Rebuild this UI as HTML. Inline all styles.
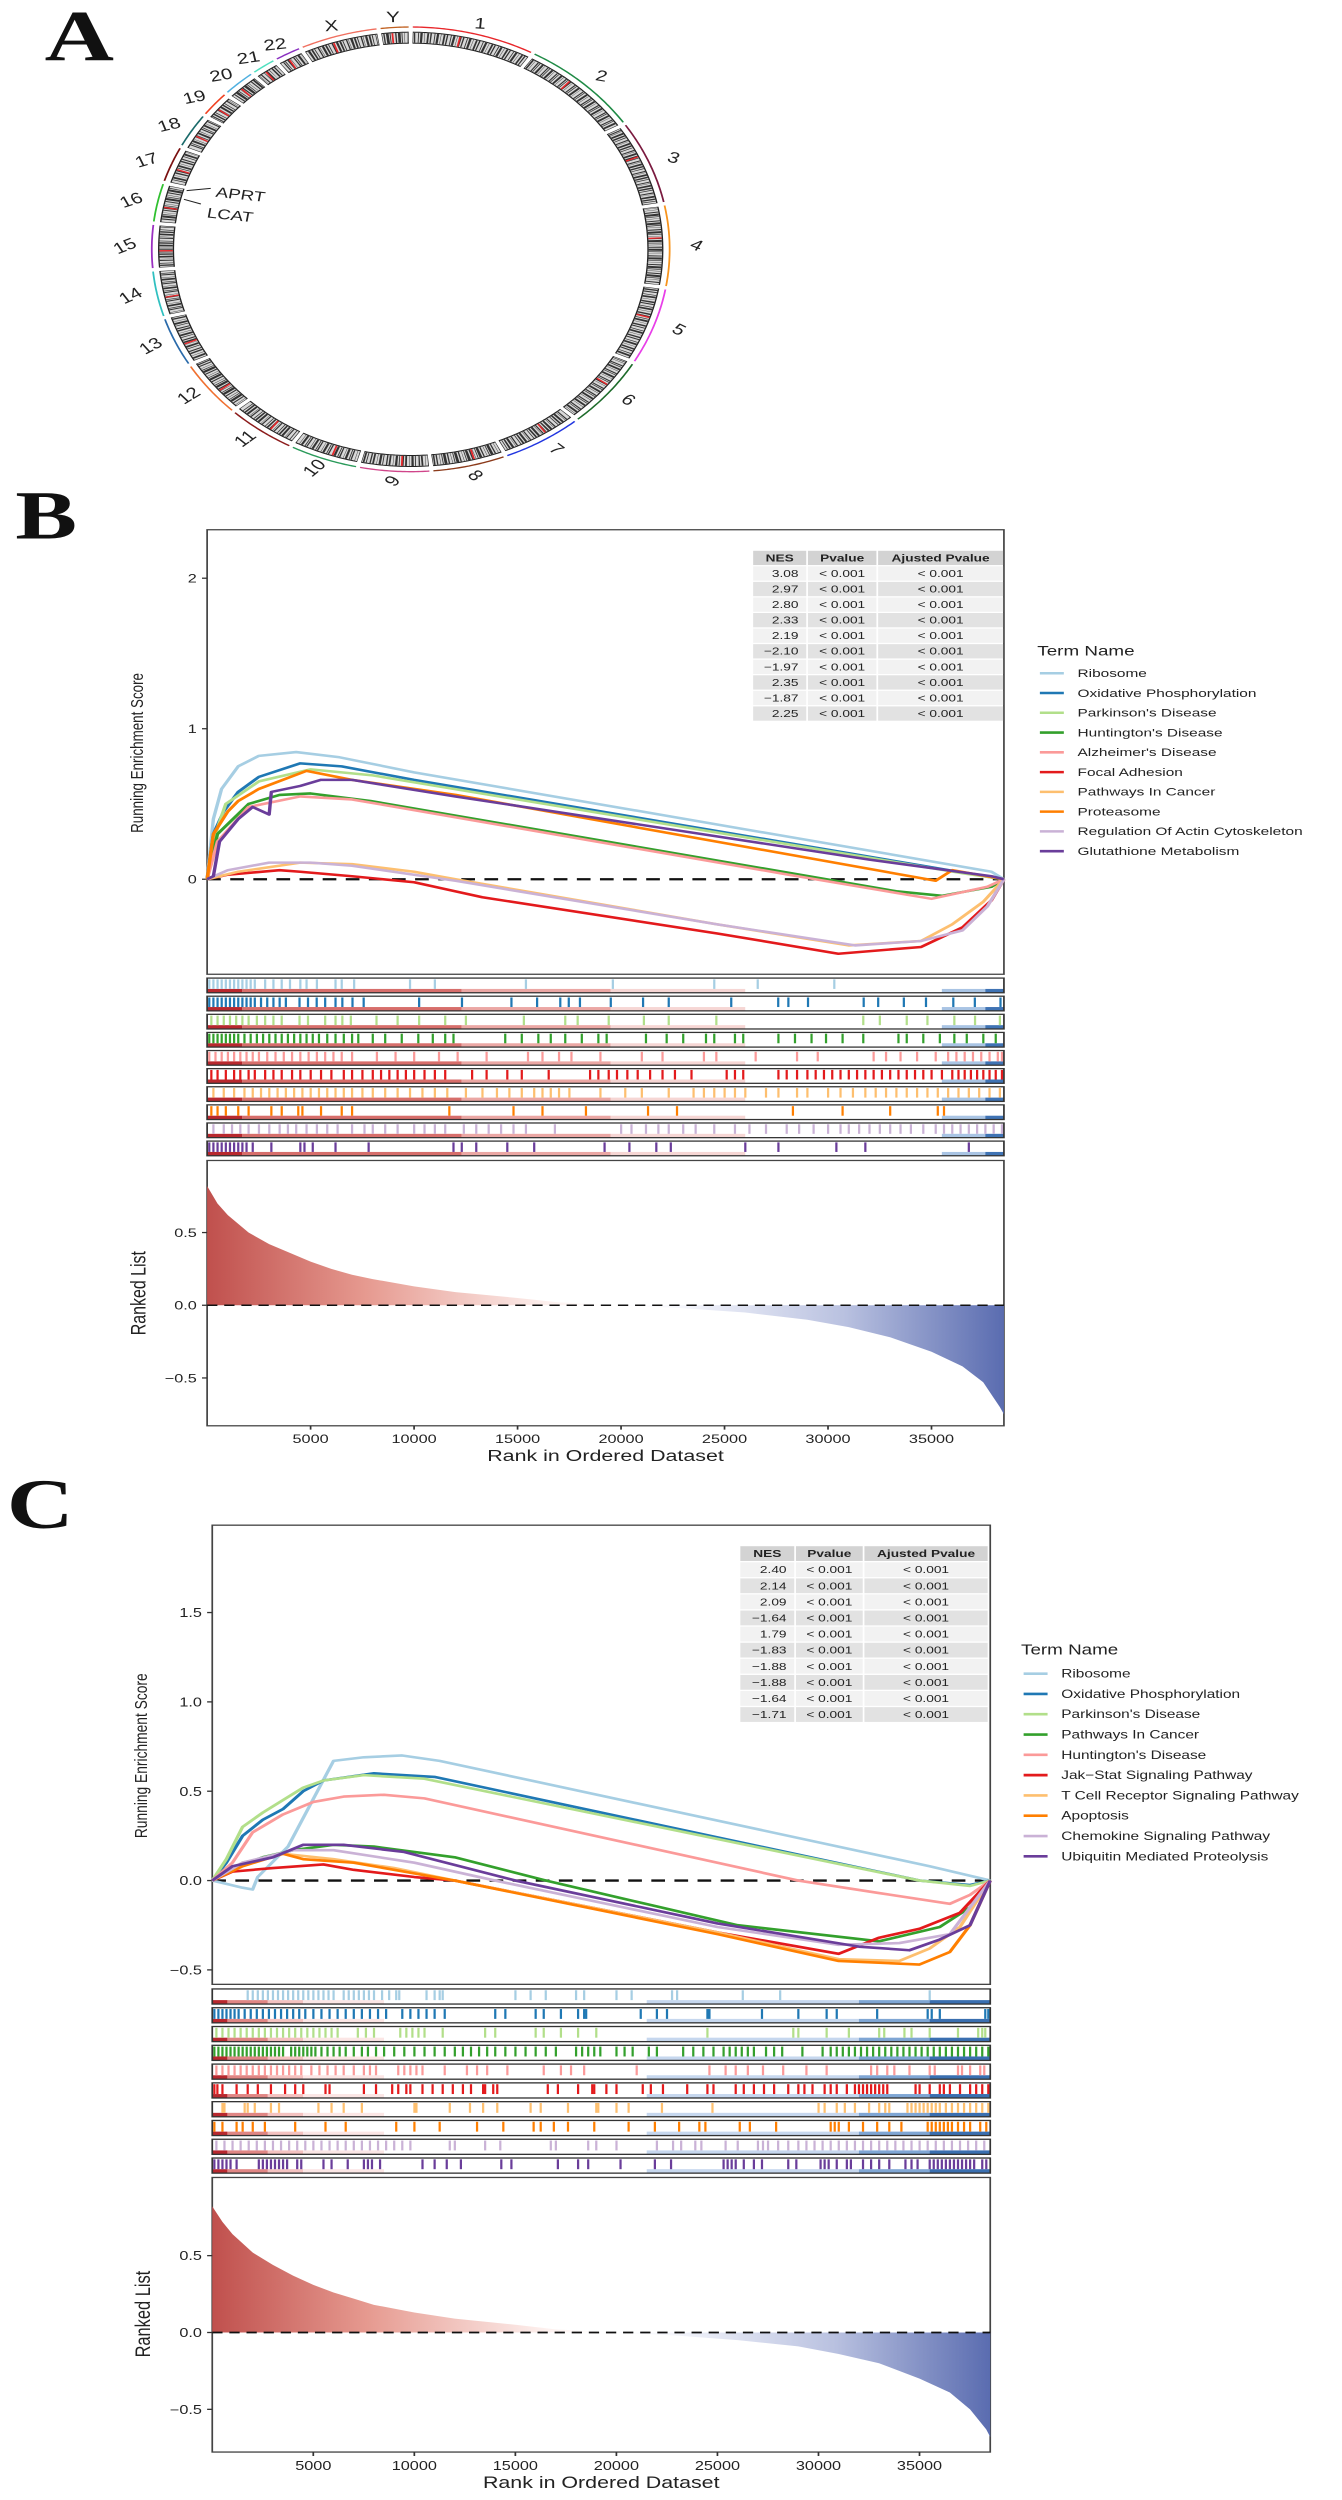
<!DOCTYPE html>
<html><head><meta charset="utf-8">
<style>
html,body{margin:0;padding:0;background:#fff;}
body{width:1342px;height:2500px;position:relative;overflow:hidden;}
svg{position:absolute;left:0;overflow:visible;}
text{font-family:"Liberation Sans",sans-serif;}
</style></head>
<body>
<svg id="svgA" style="top:0" width="700" height="500" viewBox="0 0 1568 1500" preserveAspectRatio="none"></svg>
<svg id="svgB" style="top:480px" width="1342" height="1000" viewBox="0 0 1568 1568" preserveAspectRatio="none"></svg>
<svg id="svgC" style="top:1470px" width="1342" height="1030" viewBox="0 0 1568 1568" preserveAspectRatio="none"></svg>
<script>
// ---------- Panel A data ----------
const chrNames=["1","2","3","4","5","6","7","8","9","10","11","12","13","14","15","16","17","18","19","20","21","22","X","Y"];
const chrSizes=[249,243,198,191,181,171,159,146,141,136,135,133,115,107,102,90,83,80,59,64,47,51,156,57];
const chrColors=["#e8262a","#1e8a45","#7a1a3f","#f7941d","#e83ee8","#1d6b2a","#2236e0","#8b3a1a","#d0458a","#2a9a5a","#8b1a1a","#f07030","#2a6aaa","#30c0c0","#9a30c0","#30c030","#7a1010","#1a6a6a","#f04020","#50b0e0","#50e0c0","#8a30c0","#f07060","#c06020"];

// ---------- Panel B data ----------
const bTerms=["Ribosome","Oxidative Phosphorylation","Parkinson's Disease","Huntington's Disease","Alzheimer's Disease","Focal Adhesion","Pathways In Cancer","Proteasome","Regulation Of Actin Cytoskeleton","Glutathione Metabolism"];
const bNES=["3.08","2.97","2.80","2.33","2.19","\u22122.10","\u22121.97","2.35","\u22121.87","2.25"];
const bPval=["< 0.001","< 0.001","< 0.001","< 0.001","< 0.001","< 0.001","< 0.001","< 0.001","< 0.001","< 0.001"];
const bAdj=["< 0.001","< 0.001","< 0.001","< 0.001","< 0.001","< 0.001","< 0.001","< 0.001","< 0.001","< 0.001"];
const bRibosome=[[0,0],[300,.40],[700,.60],[1500,.75],[2500,.82],[4300,.845],[6400,.81],[10000,.71],[37900,.05],[38500,0]];
const bOxPhos=[[0,0],[300,.3],[800,.45],[1500,.58],[2500,.68],[4500,.77],[6500,.75],[10000,.66],[38000,.01],[38500,0]];
const bParkinson=[[0,0],[400,.3],[900,.5],[2500,.65],[5000,.73],[8000,.69],[36500,.04],[38500,0]];
const bHuntington=[[0,0],[500,.3],[2000,.5],[3500,.56],[5000,.57],[7900,.52],[33300,-.08],[35500,-.11],[37900,-.05],[38500,0]];
const bAlzheimer=[[0,0],[500,.25],[2000,.48],[4500,.55],[7000,.53],[28100,.03],[35000,-.13],[37700,-.05],[38500,0]];
const bFocal=[[0,0],[1000,.03],[3500,.06],[4500,.05],[7000,.02],[10000,-.02],[13300,-.12],[24650,-.36],[30500,-.495],[34500,-.45],[36500,-.32],[37900,-.14],[38500,0]];
const bPathways=[[0,0],[1500,.05],[4500,.11],[7000,.10],[10000,.05],[12000,0],[24650,-.3],[31000,-.44],[34500,-.41],[36000,-.3],[37500,-.15],[38500,0]];
const bProteasome=[[0,0],[300,.3],[1000,.45],[1500,.52],[2500,.6],[4800,.72],[7000,.66],[12000,.56],[35200,-.01],[36000,.06],[38500,0]];
const bRegulation=[[0,0],[1000,.06],[3000,.11],[5000,.11],[7000,.09],[10000,.03],[12000,-.01],[24650,-.3],[31300,-.44],[34500,-.41],[36500,-.34],[37700,-.18],[38500,0]];
const bGlutathione=[[0,0],[300,.02],[600,.25],[1500,.4],[2200,.48],[3000,.43],[3100,.58],[4500,.62],[5500,.66],[7000,.66],[12000,.55],[32000,.13],[37900,.02],[38500,0]];
// hit positions, in thousands of ranks
const bHits1=[0.1,0.3,0.5,0.7,0.9,1.1,1.3,1.5,1.7,1.9,2.1,2.3,2.8,3.2,3.6,4.0,4.5,4.8,5.3,6.2,6.5,7.1,9.8,11.0,15.4,19.6,24.5,26.6,30.3];
const bHits2=[0.1,0.3,0.5,0.7,0.9,1.1,1.3,1.5,1.7,1.9,2.1,2.3,2.6,2.9,3.2,3.5,3.8,4.46,4.87,5.29,5.7,6.2,6.53,7.02,7.56,10.24,12.31,14.7,15.94,17.06,17.47,18.01,19.5,21.06,22.3,25.32,27.59,28.08,29.03,31.72,32.42,33.66,34.73,36.05,37.09,38.33];
const bHits3=[0.2,0.5,0.8,1.1,1.4,1.7,2.0,2.4,2.8,3.2,3.6,4.46,4.87,5.7,6.2,6.53,6.94,8.18,9.2,10.24,11.5,12.5,15.3,17.3,17.9,19.4,21.1,22.3,24.6,31.7,32.5,33.8,34.8,36.1,37.1,38.3];
const bHits4=[0.1,0.3,0.5,0.7,0.9,1.1,1.3,1.5,1.8,2.1,2.4,2.7,3.0,3.3,3.6,3.9,4.2,4.5,4.8,5.1,5.4,5.8,6.2,6.6,7.0,7.3,8.0,8.6,9.4,10.2,10.9,11.5,11.9,14.4,15.2,16.0,16.6,17.3,18.1,18.9,19.3,21.2,22.2,23.0,24.1,24.5,25.5,25.9,27.6,28.4,29.2,29.9,30.7,31.7,33.4,33.8,34.6,35.4,36.1,36.7,37.5,38.1];
const bHits5=[0.1,0.4,0.7,1.0,1.3,1.6,1.9,2.2,2.5,2.9,3.3,3.7,4.1,4.5,4.9,5.3,5.7,6.1,6.5,7.0,8.2,9.1,10.0,11.2,12.1,13.5,15.5,16.2,17.0,17.6,19.0,21.0,22.0,24.0,24.6,26.5,28.5,29.5,32.2,32.8,33.5,34.3,35.2,35.8,36.2,36.6,37.0,37.4,37.8,38.2,38.4];
const bHits6=[0.2,0.5,0.9,1.3,1.6,2.0,2.3,2.8,3.2,3.6,4.1,4.5,5.0,5.5,6.0,6.6,7.0,7.5,8.0,8.4,8.8,9.2,9.6,10.0,10.5,11.0,11.5,12.8,13.5,14.5,15.2,16.5,18.5,18.9,19.4,19.8,20.3,20.8,21.4,22.0,22.6,23.4,25.1,25.5,25.9,27.6,28.0,28.5,29.0,29.4,29.8,30.2,30.6,31.0,31.4,31.8,32.2,32.6,33.0,33.4,33.8,34.2,34.6,35.0,35.5,36.0,36.3,36.6,36.9,37.2,37.5,37.8,38.1,38.4];
const bHits7=[0.3,0.8,1.3,1.8,2.2,2.6,3.0,3.4,3.8,4.2,4.6,5.0,5.4,5.8,6.2,6.6,7.0,7.5,8.0,8.6,9.2,9.8,10.4,11.0,11.6,12.5,13.3,14.0,14.6,15.2,15.8,16.2,16.6,17.0,17.5,19.0,20.2,21.0,22.3,23.5,24.0,24.5,25.0,25.5,26.0,27.0,27.6,28.5,29.0,30.0,30.6,31.2,31.8,32.3,32.8,33.3,33.8,34.3,34.8,35.3,35.8,36.3,36.8,37.3,37.8,38.3];
const bHits8=[0.2,0.5,0.9,1.5,2.0,3.1,3.6,4.4,4.6,5.5,6.5,7.0,11.7,14.8,16.2,18.3,21.3,22.7,28.3,30.7,33.0,35.3,35.6];
const bHits9=[0.3,0.8,1.2,1.6,2.0,2.5,3.0,3.5,3.9,4.3,4.8,5.3,5.8,6.3,7.0,7.6,8.0,8.6,9.2,10.0,10.5,11.0,11.5,12.4,13.0,13.6,14.2,14.8,15.4,16.8,20.0,20.5,21.2,21.8,22.3,23.0,23.6,24.5,25.5,26.2,27.0,28.0,28.6,29.3,30.0,30.6,31.0,31.5,32.0,32.5,33.0,33.5,34.0,34.6,35.2,35.6,36.0,36.4,36.8,37.2,37.6,38.0,38.4];
const bHits10=[0.1,0.3,0.5,0.7,0.9,1.1,1.3,1.5,1.7,1.9,2.2,3.1,4.5,4.7,5.1,6.2,7.8,11.9,12.3,13.0,14.5,15.8,19.2,20.4,21.7,22.4,26.0,27.6,30.4,31.8,36.8];
const bRankPos=[0,500,1000,2000,3000,4000,5000,6000,7000,8000,10000,12000,15000,17000,20000,23000,26000,29000,31000,33000,35000,36500,37500,38300,38500];
const bRankVal=[.82,.7,.62,.5,.42,.36,.3,.25,.21,.18,.13,.09,.05,.02,0,-.02,-.05,-.1,-.15,-.22,-.32,-.42,-.53,-.7,-.75];
const bEsTicks=[0,1,2];
const rankTicks=[-0.5,0,0.5];
const xTicks=[5000,10000,15000,20000,25000,30000,35000];

// ---------- Panel C data ----------
const cTerms=["Ribosome","Oxidative Phosphorylation","Parkinson's Disease","Pathways In Cancer","Huntington's Disease","Jak\u2212Stat Signaling Pathway","T Cell Receptor Signaling Pathway","Apoptosis","Chemokine Signaling Pathway","Ubiquitin Mediated Proteolysis"];
const cNES=["2.40","2.14","2.09","\u22121.64","1.79","\u22121.83","\u22121.88","\u22121.88","\u22121.64","\u22121.71"];
const cPval=["< 0.001","< 0.001","< 0.001","< 0.001","< 0.001","< 0.001","< 0.001","< 0.001","< 0.001","< 0.001"];
const cAdj=["< 0.001","< 0.001","< 0.001","< 0.001","< 0.001","< 0.001","< 0.001","< 0.001","< 0.001","< 0.001"];
const cRibosome=[[0,0],[1500,-.04],[2000,-.05],[2250,.02],[3750,.19],[6000,.67],[7500,.69],[9400,.70],[11250,.67],[35500,.08],[38500,0]];
const cOxPhos=[[0,0],[700,.1],[1500,.25],[2500,.34],[3500,.40],[4500,.5],[5500,.56],[8000,.6],[11000,.58],[35000,0],[37500,-.025],[38500,0]];
const cParkinson=[[0,0],[700,.12],[1500,.3],[2500,.38],[3500,.45],[4500,.52],[5500,.56],[7500,.59],[10500,.57],[35000,0],[37500,-.03],[38500,0]];
const cPathways=[[0,0],[1000,.07],[2500,.13],[4000,.17],[6000,.2],[8000,.19],[12000,.13],[16500,0],[26000,-.25],[33000,-.34],[36000,-.26],[37500,-.15],[38500,0]];
const cHuntington=[[0,0],[1000,.1],[2000,.27],[3500,.37],[5000,.44],[6500,.47],[8500,.48],[10500,.46],[29000,0],[33000,-.07],[36500,-.13],[37500,-.08],[38500,0]];
const cJakStat=[[0,0],[1000,.05],[3000,.07],[5500,.09],[7000,.06],[10000,.02],[12000,0],[25000,-.29],[31000,-.41],[33000,-.32],[35000,-.27],[37000,-.18],[38500,0]];
const cTCell=[[0,0],[1500,.1],[3500,.15],[6000,.12],[9000,.07],[12000,0],[25000,-.29],[31000,-.44],[34000,-.45],[35500,-.38],[37000,-.26],[38500,0]];
const cApoptosis=[[0,0],[1500,.08],[3500,.15],[4500,.12],[7000,.1],[11000,.02],[12000,0],[25000,-.3],[31000,-.45],[35000,-.47],[36500,-.40],[37500,-.25],[38500,0]];
const cChemokine=[[0,0],[1500,.1],[4000,.17],[6000,.17],[10000,.1],[14000,0],[25000,-.26],[31000,-.36],[34000,-.35],[36500,-.3],[38500,0]];
const cUbiquitin=[[0,0],[1000,.08],[3000,.13],[4500,.2],[6500,.2],[9500,.16],[15000,0],[25000,-.24],[32000,-.37],[34500,-.39],[36000,-.33],[37500,-.25],[38500,0]];
const cHits1=[1.75,2.0,2.25,2.5,2.75,3.0,3.25,3.5,3.75,4.0,4.25,4.5,4.75,5.0,5.25,5.5,5.75,6.0,6.5,6.75,7.0,7.25,7.5,7.75,8.0,8.4,8.75,9.1,9.25,10.6,11.0,11.25,11.4,15.0,15.75,16.5,18.0,18.4,20.0,20.75,22.75,23.0,26.25,28.1,35.5];
const cHits2=[0.1,0.3,0.5,0.7,0.9,1.1,1.3,1.6,1.9,2.2,2.5,2.8,3.1,3.4,3.7,4.0,4.3,4.6,5.0,5.4,5.8,6.2,6.6,7.0,7.4,7.8,8.2,8.6,9.4,9.8,10.2,10.6,11.0,11.5,14.0,14.5,16.0,16.4,17.25,18.1,18.4,18.5,21.2,22.0,22.5,24.5,24.6,27.2,29.0,30.4,30.9,32.9,35.4,35.6,36.0,38.25,38.4];
const cHits3=[0.2,0.5,0.8,1.1,1.4,1.7,2.0,2.3,2.6,2.9,3.2,3.5,3.8,4.1,4.4,4.7,5.0,5.3,5.6,5.9,6.2,7.2,7.6,8.0,9.3,9.6,9.9,10.2,10.5,11.4,13.5,14.0,16.0,16.4,17.25,18.1,19.0,24.5,28.75,29.0,30.4,31.5,33.0,33.25,34.25,34.6,35.5,36.9,37.9,38.1,38.25];
const cHits4=[0.1,0.3,0.5,0.7,0.9,1.1,1.3,1.5,1.7,1.9,2.1,2.3,2.5,2.7,2.9,3.1,3.3,3.5,3.9,4.1,4.3,4.5,4.7,4.9,5.1,5.4,5.7,6.0,6.3,6.6,7.0,7.4,7.7,8.1,8.5,9.0,9.5,10.0,10.5,11.0,11.5,12.0,12.4,12.8,13.2,13.6,14.0,14.5,15.0,15.5,16.0,16.5,17.0,18.0,18.3,18.6,18.9,19.2,20.0,20.4,20.8,21.6,22.0,23.3,23.8,24.3,24.8,25.3,25.6,25.9,26.2,26.5,26.8,27.4,27.8,28.2,29.2,30.2,30.6,30.9,31.2,31.5,31.8,32.1,32.4,32.7,33.0,33.3,33.6,33.9,34.2,34.5,34.8,35.1,35.4,35.7,36.0,36.3,36.6,36.9,37.2,37.5,37.8,38.1,38.4];
const cHits5=[0.2,0.5,0.8,1.1,1.4,1.7,2.0,2.3,2.6,2.9,3.2,3.5,3.8,4.1,4.4,4.9,5.3,5.7,6.1,6.5,7.0,7.5,7.8,8.1,9.2,9.5,9.8,10.1,10.4,11.5,12.6,13.1,13.6,14.6,16.4,17.25,17.75,18.4,21.0,24.6,25.4,25.9,26.5,27.25,28.25,29.4,30.4,32.6,32.9,33.4,33.75,34.5,35.5,35.75,36.9,37.1,37.5,38.0,38.2];
const cHits6=[0.1,0.25,0.5,1.2,1.75,2.25,2.9,3.6,4.1,4.5,5.6,5.8,7.5,8.1,8.9,9.2,9.6,9.8,10.4,10.9,11.4,11.9,12.4,12.8,13.4,13.5,13.9,14.1,16.6,17.1,18.1,18.8,18.9,19.5,20.0,21.3,21.7,22.3,23.5,24.5,24.8,25.9,26.3,26.8,27.3,27.8,28.5,29.0,29.3,29.7,30.3,30.6,30.9,31.4,31.8,32.0,32.2,32.4,32.6,32.8,33.0,33.2,33.4,34.8,35.0,35.5,36.0,36.2,36.5,37.0,37.5,37.8,38.1,38.4];
const cHits7=[0.5,0.6,1.6,1.75,2.1,2.9,3.3,5.25,5.9,6.5,7.4,10.0,10.1,11.75,12.75,13.4,14.1,15.75,16.25,17.6,19.0,19.1,20.0,20.6,22.25,24.75,30.0,30.3,30.9,31.3,31.8,32.5,33.0,33.3,33.5,34.4,34.6,34.8,35.0,35.2,35.4,35.6,35.8,36.0,36.3,36.6,36.9,37.2,37.5,37.8,38.1,38.4];
const cHits8=[0.1,0.5,1.2,1.5,2.0,2.6,4.1,5.6,6.6,9.1,10.0,11.25,13.1,14.4,15.9,16.25,16.9,17.6,18.9,20.6,21.9,23.1,24.1,24.4,26.1,26.6,27.9,30.6,30.8,31.0,31.5,32.2,32.9,33.5,34.1,35.4,35.6,35.8,36.0,36.2,36.4,36.6,36.9,37.2,37.5,38.0,38.3];
const cHits9=[0.2,0.6,1.0,1.4,1.8,2.2,2.6,3.0,3.4,3.8,4.2,4.6,5.0,5.4,5.8,6.2,6.6,7.0,7.4,7.8,8.2,8.6,9.0,9.4,9.8,11.75,12.0,13.5,14.25,16.75,17.0,18.6,19.0,20.0,22.0,22.8,23.2,23.9,24.2,25.4,26.0,27.0,27.25,27.5,28.0,28.5,29.0,29.4,29.8,30.2,30.6,31.0,31.4,31.8,32.2,32.6,33.0,33.4,33.8,34.2,34.6,35.0,35.4,35.8,36.2,36.6,37.0,37.4,37.8,38.2];
const cHits10=[0.1,0.3,0.5,0.7,0.9,1.2,2.3,2.5,2.7,2.9,3.1,3.3,3.5,3.7,4.2,4.4,5.5,5.9,6.7,7.5,7.7,7.9,8.3,10.4,11.0,11.6,12.3,14.3,14.8,17.1,18.1,18.6,20.2,21.9,22.7,25.3,25.5,25.7,25.9,26.3,26.8,27.2,28.5,28.9,30.1,30.3,30.5,30.9,31.4,31.6,32.2,32.6,33.0,33.5,34.3,34.6,34.9,35.5,35.7,35.9,36.1,36.3,36.5,36.7,36.9,37.1,37.3,37.5,37.7,38.1,38.3];
const cRankPos=[0,500,1000,2000,3000,4000,5000,6000,7000,8000,10000,12000,15000,17000,20000,23000,26000,29000,31000,33000,35000,36500,37500,38300,38500];
const cRankVal=[.82,.72,.64,.52,.44,.37,.31,.26,.22,.18,.13,.09,.05,.02,0,-.02,-.05,-.09,-.14,-.2,-.3,-.39,-.5,-.63,-.68];
const cEsTicks=[-0.5,0,0.5,1,1.5];

const seriesColors=["#A6CEE3","#1F78B4","#B2DF8A","#33A02C","#FB9A99","#E31A1C","#FDBF6F","#FF7F00","#CAB2D6","#6A3D9A"];
const NS="http://www.w3.org/2000/svg";
function mk(tag,parent){const e=document.createElementNS(NS,tag);parent.appendChild(e);return e;}
function at(e,o){for(const k in o)e.setAttribute(k,o[k]);return e;}
function fmtTick(v,dec){const s=v.toFixed(dec);return v<0?"\u2212"+s.slice(1):s;}

// ---------- Panel A ----------
(function(){
  const svg=document.getElementById("svgA");
  const cx=920,cy=748,rx=548,ry=635;
  const lab=mk("text",svg);
  at(lab,{x:100,y:182,"font-size":215,"font-weight":"bold",fill:"#111"});
  lab.style.fontFamily='"Liberation Serif",serif';
  lab.textContent="A";
  
  
  const gapDeg=0.9;
  const total=chrSizes.reduce((a,b)=>a+b,0);
  const degPer=(360-gapDeg*chrSizes.length)/total;
  function pt(a,rX,rY){const t=a*Math.PI/180;return [cx+rX*Math.sin(t),cy-rY*Math.cos(t)];}
  function arcPts(a0,a1,rX,rY){const n=Math.max(4,Math.ceil((a1-a0)*2));const p=[];for(let i=0;i<=n;i++){const q=pt(a0+(a1-a0)*i/n,rX,rY);p.push(q[0].toFixed(1)+","+q[1].toFixed(1));}return p.join(" ");}
  const dashes=["3 6 2 3 5 4 1 5 4 3","2 4 5 3 1 6 3 2","4 3 2 6 3 2 1 4 5 3","1 5 3 3 6 2 2 4"];
  let a=gapDeg/2;
  chrSizes.forEach((s,i)=>{
    const a1=a+s*degPer;
    const g=mk("g",svg);
    
    
    const outline=mk("polyline",g);
    at(outline,{points:arcPts(a,a1,rx,ry),fill:"none",stroke:"#222","stroke-width":36});
    const base=mk("polyline",g);
    at(base,{points:arcPts(a+0.15,a1-0.15,rx,ry),fill:"none",stroke:"#d8d8d8","stroke-width":30});
    const bands=mk("polyline",g);
    at(bands,{points:arcPts(a+0.3,a1-0.3,rx,ry),fill:"none",stroke:"#333","stroke-width":30,"stroke-dasharray":dashes[i%4],"stroke-dashoffset":i*7});
    const cm=a+(a1-a)*0.4;
    const c1=pt(cm,rx-15,ry-15),c2=pt(cm,rx+15,ry+15);
    const red=mk("line",g);
    at(red,{x1:c1[0],y1:c1[1],x2:c2[0],y2:c2[1],stroke:"#e8262a","stroke-width":4});
    const arc=mk("polyline",g);
    at(arc,{points:arcPts(a,a1,rx+32,ry+32),fill:"none",stroke:chrColors[i],"stroke-width":4});
    const am=(a+a1)/2;
    const lp=pt(am,rx+92,ry+62);
    const t=mk("text",g);
    at(t,{x:lp[0],y:lp[1]+14,"font-size":46,"text-anchor":"middle",fill:"#222",transform:"rotate("+(am>180?am-360:am)*0.3+" "+lp[0]+" "+lp[1]+")"});
    t.textContent=chrNames[i];
    a=a1+gapDeg;
  });
  const genes=[["APRT",418,572,472,565,482,590],["LCAT",412,598,450,612,462,652]];
  genes.forEach(gn=>{
    const l=mk("line",svg);
    at(l,{x1:gn[1],y1:gn[2],x2:gn[3],y2:gn[4],stroke:"#222","stroke-width":3});
    
    
    const t=mk("text",svg);
    at(t,{x:gn[5],y:gn[6],"font-size":42,fill:"#222",transform:"rotate(8 "+gn[5]+" "+gn[6]+")"});
    t.textContent=gn[0];
    
    
  });
})();

// ---------- GSEA panels ----------
function drawGsea(svg,L,terms,curves,hits,rankPos,rankVal,nes,pv,adj,esTicks,letter,id){
  const xr=r=>L.px0+r*(L.px1-L.px0)/38500;
  const yEs=v=>L.es0-v*L.esU;
  const yRk=v=>L.rk0-v*L.rkU;
  const lab=mk("text",svg);
  at(lab,{x:L.labX,y:L.labY,"font-size":108,"font-weight":"bold",fill:"#111"});
  lab.style.fontFamily='"Liberation Serif",serif';
  lab.textContent=letter;
  
  
  // defs gradient
  const defs=mk("defs",svg);
  const gr=mk("linearGradient",defs);
  at(gr,{id:"rg"+id,x1:L.px0,x2:L.px1,y1:0,y2:0,gradientUnits:"userSpaceOnUse"});
  [[0,"#c0504d"],[0.2,"#e69a90"],[0.43,"#fdf1ef"],[0.5,"#ffffff"],[0.59,"#f6f7fc"],[0.8,"#b9c1e0"],[1,"#5a6cb0"]].forEach(s=>{const st=mk("stop",gr);at(st,{offset:s[0],"stop-color":s[1]});});
  // ES panel
  const esBox=mk("rect",svg);
  at(esBox,{x:L.px0,y:L.esTop,width:L.px1-L.px0,height:L.esBot-L.esTop,fill:"#fff",stroke:"#444","stroke-width":2});
  
  
  esTicks.forEach(v=>{
    const tk=mk("line",svg);
    at(tk,{x1:L.px0-6,x2:L.px0,y1:yEs(v),y2:yEs(v),stroke:"#333","stroke-width":2});
    const t=mk("text",svg);
    at(t,{x:L.px0-12,y:yEs(v)+7,"font-size":19,"text-anchor":"end",fill:"#222"});
    t.textContent=esTicks.length>3?fmtTick(v,1):String(v);
    
    
  });
  const z=mk("line",svg);
  at(z,{x1:L.px0,x2:L.px1,y1:yEs(0),y2:yEs(0),stroke:"#111","stroke-width":3.5,"stroke-dasharray":"16 11"});
  
  
  const yt=mk("text",svg);
  at(yt,{x:0,y:0,"font-size":21,"text-anchor":"middle",fill:"#222",transform:"translate("+L.ytX+","+L.ytEs+") rotate(-90)"});
  yt.textContent="Running Enrichment Score";
  
  
  curves.forEach((c,i)=>{
    const pl=mk("polyline",svg);
    at(pl,{points:c.map(p=>xr(p[0]).toFixed(1)+","+yEs(p[1]).toFixed(1)).join(" "),fill:"none",stroke:seriesColors[i],"stroke-width":4,"stroke-linejoin":"round"});
    
    
  });
  // table
  const tw=L.tb[3]-L.tb[0];
  const cols=[L.tb[0],L.tb[1],L.tb[2],L.tb[3]];
  const heads=["NES","Pvalue","Ajusted Pvalue"];
  for(let r=0;r<=10;r++){
    for(let c=0;c<3;c++){
      const cell=mk("rect",svg);
      at(cell,{x:cols[c]+1,y:L.tbTop+r*L.tbRow+1,width:cols[c+1]-cols[c]-2,height:L.tbRow-2,fill:r===0?"#d3d3d3":(r%2?"#f2f2f2":"#e2e2e2")});
      const t=mk("text",svg);
      let txt=r===0?heads[c]:(c===0?nes[r-1]:(c===1?pv[r-1]:adj[r-1]));
      const cxm=(cols[c]+cols[c+1])/2;
      let x=c===0&&r>0?cols[1]-10:cxm;
      at(t,{x:x,y:L.tbTop+r*L.tbRow+L.tbRow*0.72,"font-size":16,"text-anchor":c===0&&r>0?"end":"middle",fill:"#222","font-weight":r===0?"bold":"normal"});
      t.textContent=txt;
      
      
    }
  }
  // legend
  const lt=mk("text",svg);
  at(lt,{x:L.lgX,y:L.lgTitleY,"font-size":22,fill:"#222"});
  lt.textContent="Term Name";
  
  
  terms.forEach((nm,i)=>{
    const y=L.lgY+i*L.lgP;
    const ln=mk("line",svg);
    at(ln,{x1:L.lgX+3,x2:L.lgX+31,y1:y,y2:y,stroke:seriesColors[i],"stroke-width":4});
    
    
    const t=mk("text",svg);
    at(t,{x:L.lgX+47,y:y+6,"font-size":18,fill:"#222"});
    t.textContent=nm;
    
    
  });
  // strips
  hits.forEach((h,i)=>{
    const top=L.stTop+i*L.stP;
    const g=mk("g",svg);
    
    
    const box=mk("rect",g);
    at(box,{x:L.px0,y:top,width:L.px1-L.px0,height:L.stH,fill:"#fff"});
    L.bands.forEach(b=>{
      const br=mk("rect",g);
      at(br,{x:xr(b[0]),y:top+L.stH-6,width:xr(b[1])-xr(b[0]),height:6,fill:b[2]});
    });
    h.forEach(k=>{
      const tk=mk("rect",g);
      at(tk,{x:xr(k*1000)-1.2,y:top+2,width:2.6,height:L.stH-8,fill:seriesColors[i]});
    });
    const bx=mk("rect",g);
    at(bx,{x:L.px0,y:top,width:L.px1-L.px0,height:L.stH,fill:"none",stroke:"#333","stroke-width":2});
  });
  // ranked list
  const rb=mk("rect",svg);
  at(rb,{x:L.px0,y:L.rkTop,width:L.px1-L.px0,height:L.rkBot-L.rkTop,fill:"#fff",stroke:"#444","stroke-width":2});
  
  
  let pts=[xr(rankPos[0]).toFixed(1)+","+yRk(0).toFixed(1)];
  rankPos.forEach((r,i)=>pts.push(xr(r).toFixed(1)+","+yRk(rankVal[i]).toFixed(1)));
  pts.push(xr(rankPos[rankPos.length-1]).toFixed(1)+","+yRk(0).toFixed(1));
  const area=mk("polygon",svg);
  at(area,{points:pts.join(" "),fill:"url(#rg"+id+")"});
  
  
  const z2=mk("line",svg);
  at(z2,{x1:L.px0,x2:L.px1,y1:yRk(0),y2:yRk(0),stroke:"#111","stroke-width":2.5,"stroke-dasharray":"12 8"});
  
  
  rankTicks.forEach(v=>{
    const tk=mk("line",svg);
    at(tk,{x1:L.px0-6,x2:L.px0,y1:yRk(v),y2:yRk(v),stroke:"#333","stroke-width":2});
    const t=mk("text",svg);
    at(t,{x:L.px0-12,y:yRk(v)+7,"font-size":19,"text-anchor":"end",fill:"#222"});
    t.textContent=fmtTick(v,1);
    
    
  });
  xTicks.forEach(v=>{
    const tk=mk("line",svg);
    at(tk,{x1:xr(v),x2:xr(v),y1:L.rkBot,y2:L.rkBot+6,stroke:"#333","stroke-width":2});
    const t=mk("text",svg);
    at(t,{x:xr(v),y:L.xtY,"font-size":19,"text-anchor":"middle",fill:"#222"});
    t.textContent=String(v);
    
    
  });
  const xt=mk("text",svg);
  at(xt,{x:(L.px0+L.px1)/2,y:L.xtTitle,"font-size":25,"text-anchor":"middle",fill:"#222"});
  xt.textContent="Rank in Ordered Dataset";
  
  
  const yt2=mk("text",svg);
  at(yt2,{x:0,y:0,"font-size":25,"text-anchor":"middle",fill:"#222",transform:"translate("+L.ytX2+","+L.ytRk+") rotate(-90)"});
  yt2.textContent="Ranked List";
  
  
}

drawGsea(document.getElementById("svgB"),
 {px0:242,px1:1173,esTop:78,esBot:775,es0:626,esU:236,rkTop:1067,rkBot:1483,rk0:1294,rkU:228,
  stTop:781,stP:28.4,stH:23,tb:[879,943,1025,1173],tbTop:110,tbRow:24.4,lgX:1212,lgTitleY:275,lgY:303,lgP:31,
  xtY:1510,xtTitle:1538,ytX:167,ytEs:428,ytX2:170,ytRk:1275,labX:18,labY:92,
  bands:[[0,1700,"#b8282e"],[1700,12300,"#d76e6b"],[12300,19500,"#eba7a4"],[19500,26000,"#f6d6d4"],[35500,37600,"#a9c4e4"],[37600,38500,"#3f73b4"]]},
 bTerms,[bRibosome,bOxPhos,bParkinson,bHuntington,bAlzheimer,bFocal,bPathways,bProteasome,bRegulation,bGlutathione],
 [bHits1,bHits2,bHits3,bHits4,bHits5,bHits6,bHits7,bHits8,bHits9,bHits10],bRankPos,bRankVal,bNES,bPval,bAdj,bEsTicks,"B","B");

drawGsea(document.getElementById("svgC"),
 {px0:248,px1:1157,esTop:84,esBot:783,es0:625,esU:272,rkTop:1077,rkBot:1495,rk0:1313,rkU:234,
  stTop:790,stP:28.6,stH:23,tb:[864,929,1009,1155],tbTop:115,tbRow:24.5,lgX:1193,lgTitleY:281,lgY:310,lgP:30.9,
  xtY:1522,xtTitle:1550,ytX:172,ytEs:435,ytX2:175,ytRk:1285,labX:8,labY:88,
  bands:[[0,750,"#b8282e"],[750,2750,"#e08684"],[2750,4500,"#f4c2c0"],[4500,8500,"#fbe6e5"],[21500,32000,"#c6d7ee"],[32000,35500,"#7fa6d4"],[35500,38500,"#3a6fb0"]]},
 cTerms,[cRibosome,cOxPhos,cParkinson,cPathways,cHuntington,cJakStat,cTCell,cApoptosis,cChemokine,cUbiquitin],
 [cHits1,cHits2,cHits3,cHits4,cHits5,cHits6,cHits7,cHits8,cHits9,cHits10],cRankPos,cRankVal,cNES,cPval,cAdj,cEsTicks,"C","C");
</script>
</body></html>
